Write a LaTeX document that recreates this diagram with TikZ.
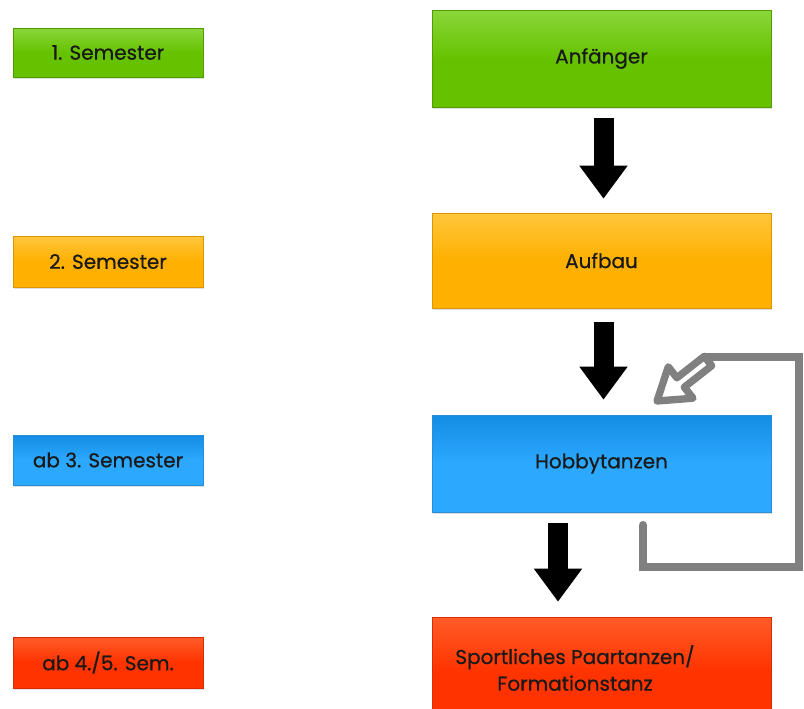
\documentclass[tikz,border=0pt]{standalone}
\usepackage{fontspec}
\setmainfont{Poppins}
\newfontfamily\boxfont{Poppins}[FakeBold=0.6]
\usetikzlibrary{arrows.meta,calc,shadows}
\definecolor{grnA}{RGB}{102,194,0}
\definecolor{grnT}{RGB}{138,214,58}
\definecolor{orgA}{RGB}{255,176,0}
\definecolor{orgT}{RGB}{255,198,60}
\definecolor{bluA}{RGB}{44,168,255}
\definecolor{bluT}{RGB}{20,140,228}
\definecolor{redA}{RGB}{255,51,0}
\definecolor{redT}{RGB}{255,92,40}
\definecolor{txt}{RGB}{25,25,25}
\definecolor{loopgray}{RGB}{128,128,128}
\tikzset{
  boxtext/.style={text=txt, align=center, inner sep=0pt,
    font=\boxfont\fontsize{15}{20}\selectfont},
  box/.style={rectangle, boxtext,
    drop shadow={opacity=0.25, shadow xshift=0.8pt, shadow yshift=-1.2pt}},
  semlabel/.style={box, minimum width=142.5pt},
  stagebox/.style={box, minimum width=254.25pt},
  greenbox/.style={top color=grnT, bottom color=grnA, middle color=grnA, draw=grnA!80!black, line width=0.4pt},
  orangebox/.style={top color=orgT, bottom color=orgA, middle color=orgA, draw=orgA!85!black, line width=0.4pt},
  bluebox/.style={top color=bluT, bottom color=bluA, middle color=bluA, draw=bluA!85!black, line width=0.4pt},
  redbox/.style={top color=redT, bottom color=redA, middle color=redA, draw=redA!85!black, line width=0.4pt},
  blockarrow/.style={line width=15pt, black, -{Triangle[width=34.5pt,length=24.75pt]}},
  loopline/.style={line width=6.5pt, loopgray, line cap=round},
  hollowarrow/.style={line width=5.5pt, loopgray, line join=round, fill=white}
}
\begin{document}
\begin{tikzpicture}[x=0.75pt,y=-0.75pt]
\useasboundingbox (0,0) rectangle (804,708);
% left labels
\node[semlabel, greenbox, minimum height=36.75pt] (L1) at (108,52.5) {1. Semester};
\node[semlabel, orangebox, minimum height=38.25pt] (L2) at (108,261.5) {2. Semester};
\node[semlabel, bluebox, minimum height=37.5pt] (L3) at (108,460) {ab 3. Semester};
\node[semlabel, redbox, minimum height=38.25pt] (L4) at (108,662.5) {ab 4./5. Sem.};
% stage boxes
\node[stagebox, greenbox, minimum height=72.75pt] (A) at (601.5,58.5) {Anfänger};
\node[stagebox, orangebox, minimum height=71.25pt] (B) at (601.5,260.5) {Aufbau};
\node[stagebox, bluebox, minimum height=72.75pt] (C) at (601.5,463.5) {Hobbytanzen};
\node[stagebox, redbox, minimum height=82.5pt] (D) at (601.5,672) {};
\node[boxtext] (Dt) at (575,668) {Sportliches Paartanzen/\\Formationstanz};
% black arrows
\draw[blockarrow] ($(A.south)+(2,11)$) -- ($(B.north)+(2,-14)$);
\draw[blockarrow] ($(B.south)+(2,14)$) -- ($(C.north)+(2,-15)$);
\draw[blockarrow] ($(C.south)+(-43.5,11)$) -- ($(D.north)+(-43.5,-15)$);
% gray loop back
\coordinate (g0) at ($(C.south)+(41.5,13)$);
\coordinate (g1) at (643,567);
\coordinate (g2) at (799,567);
\coordinate (g3) at (799,357);
\coordinate (tail) at (706,357);
\coordinate (tip) at (657,401);
\draw[loopline] (g0) -- (g1) -- (g2) -- (g3) -- (tail);
\draw[hollowarrow] (tip) -- (668.3,366.8) -- (676.9,377.8) -- (704.3,356.3)
  -- (711.7,365.7) -- (684.3,387.2) -- (693,398.2) -- cycle;
\end{tikzpicture}
\end{document}
